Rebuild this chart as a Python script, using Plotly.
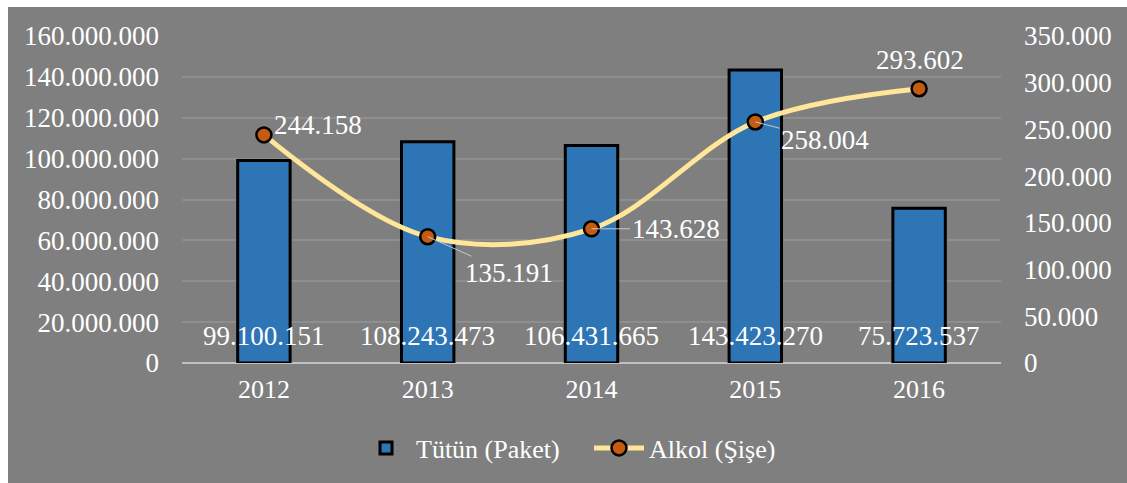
import plotly.graph_objects as go

years = [2012, 2013, 2014, 2015, 2016]
year_labels = ["2012", "2013", "2014", "2015", "2016"]
tutun = [99100151, 108243473, 106431665, 143423270, 75723537]
alkol = [244158, 135191, 143628, 258004, 293602]
tutun_labels = ["99.100.151", "108.243.473", "106.431.665", "143.423.270", "75.723.537"]
alkol_labels = ["244.158", "135.191", "143.628", "258.004", "293.602"]
# label offsets (px) for line labels: (ax, ay, arrow)
alkol_offsets = [(54, -10, False), (81, 36, True), (84, 0, True), (70, 18, True), (1, -29, False)]

FONT = "Liberation Serif, Times New Roman, serif"
BG = "#7f7f7f"
FS = 27

fig = go.Figure()
fig.add_trace(go.Bar(
    x=years, y=tutun, name="Tütün (Paket)",
    marker=dict(color="#2E75B6", line=dict(color="black", width=3)),
    width=0.32, yaxis="y",
))
fig.add_trace(go.Scatter(
    x=years, y=alkol, name="Alkol (Şişe)", yaxis="y2",
    mode="lines+markers",
    line=dict(color="#FFE699", width=5, shape="spline", smoothing=1.0),
    marker=dict(color="#C55A11", size=15, line=dict(color="black", width=2.5)),
))

annotations = []
for yr, v, t in zip(years, tutun, tutun_labels):
    annotations.append(dict(x=yr, y=0, xref="x", yref="y", text=t, showarrow=False,
                            yanchor="bottom", yshift=10,
                            font=dict(family=FONT, size=FS, color="white")))
for yr, v, t, (ax, ay, arr) in zip(years, alkol, alkol_labels, alkol_offsets):
    if arr:
        annotations.append(dict(x=yr, y=v, xref="x", yref="y2", text=t, showarrow=True,
                                ax=ax, ay=ay, arrowhead=0, arrowwidth=1, arrowcolor="#c8c8c8",
                                standoff=0,
                                font=dict(family=FONT, size=FS, color="white")))
    else:
        annotations.append(dict(x=yr, y=v, xref="x", yref="y2", text=t, showarrow=False,
                                xshift=ax, yshift=-ay,
                                font=dict(family=FONT, size=FS, color="white")))

fig.update_layout(
    width=1127, height=483,
    margin=dict(l=182, r=126, t=36, b=120),
    paper_bgcolor="white", plot_bgcolor="rgba(0,0,0,0)",
    separators=",.",
    font=dict(family=FONT, size=FS, color="white"),
    showlegend=True,
    legend=dict(orientation="h", x=(356 - 182) / 819, xanchor="left", y=-0.26, yanchor="middle",
                font=dict(family=FONT, size=FS - 1, color="white"), bgcolor="rgba(0,0,0,0)",
                itemwidth=50, entrywidth=168, entrywidthmode="pixels"),
    xaxis=dict(type="linear", range=[2011.5, 2016.5], tickmode="array",
               tickvals=years, ticktext=year_labels,
               showgrid=False, showline=False, ticks="", zeroline=False,
               tickfont=dict(size=FS - 1), ticklabelstandoff=8),
    yaxis=dict(range=[0, 160000000], dtick=20000000, tickformat=",d",
               showgrid=True, gridcolor="#8e8e8e", gridwidth=1.5,
               zeroline=True, zerolinecolor="#c0c0c0", zerolinewidth=2,
               showline=False, ticks="", ticklabelstandoff=22, tickfont=dict(size=FS)),
    yaxis2=dict(range=[0, 350000], dtick=50000, tickformat=",d", overlaying="y", side="right",
                showgrid=False, zeroline=False, showline=False, ticks="",
                ticklabelstandoff=22, tickfont=dict(size=FS)),
    annotations=annotations,
    shapes=[dict(type="rect", xref="paper", yref="paper",
                 x0=(8 - 182) / 819, x1=(1127 - 182) / 819 + 0.01,
                 y0=(363 - 483) / 327 - 0.01, y1=(363 - 7) / 327,
                 fillcolor=BG, line=dict(width=0), layer="below")],
)

fig.write_html("out.html")
